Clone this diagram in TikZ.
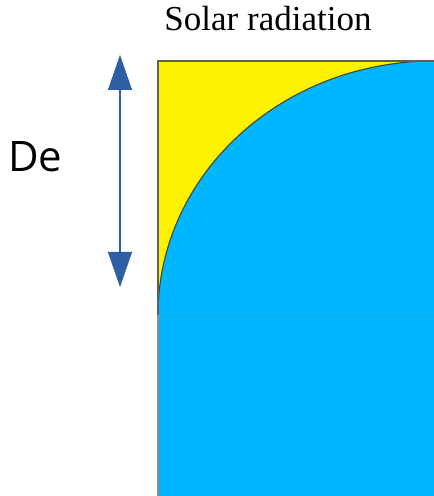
\documentclass[tikz,border=0pt]{standalone}
\usepackage{fontspec}
\setmainfont{Liberation Serif}
\newfontfamily\labelfont{Open Sans}
\usetikzlibrary{arrows.meta}
\definecolor{skyblue}{RGB}{0,182,255}
\definecolor{seam}{RGB}{20,178,225}
\definecolor{edgegray}{RGB}{95,95,95}
\definecolor{curveline}{RGB}{70,70,45}
\definecolor{arrowblue}{RGB}{46,95,165}
\tikzset{
  outline/.style={draw=edgegray,line width=1.4pt},
  dimarrow/.style={draw=arrowblue,line width=1.1pt,
    {Triangle[length=35pt,width=24pt]}-{Triangle[length=35pt,width=24pt]},
    arrowblue}
}
\begin{document}
\begin{tikzpicture}[x=1pt,y=1pt]
\useasboundingbox (0,0) rectangle (434,496);
% yellow square
\fill[yellow] (158,181) rectangle (434,435);
% blue quarter ellipse
\fill[skyblue] (158,181) arc[start angle=180,end angle=90,x radius=276,y radius=254] -- (434,181) -- cycle;
\draw[curveline,line width=1.1pt] (158,181) arc[start angle=180,end angle=90,x radius=276,y radius=254];
% lower blue block
\fill[skyblue] (158,0) rectangle (434,181);
\draw[seam,line width=0.8pt] (158,181) -- (434,181);
% outlines
\draw[outline] (158,181) -- (158,435) -- (434,435);
\draw[draw=edgegray!70,line width=1.4pt] (158,0) -- (158,181);
% arrow
\coordinate (atop) at (120,441);
\coordinate (abot) at (120,209);
\draw[dimarrow] (abot) -- (atop);
% labels
\node[font=\fontsize{35}{40}\selectfont,anchor=base] (solar) at (268,465) {Solar radiation};
\node[font=\labelfont\fontsize{42}{48}\selectfont,anchor=base west,inner sep=0pt] (de) at (8,324) {De};
\end{tikzpicture}
\end{document}
